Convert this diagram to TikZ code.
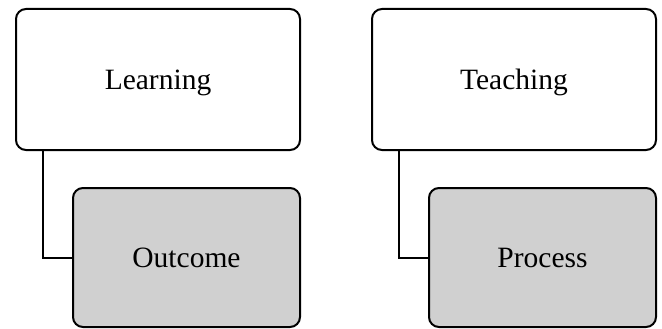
\documentclass[tikz,border=0pt]{standalone}
\usepackage{fontspec}
\setmainfont{Liberation Serif}
\begin{document}
\begin{tikzpicture}[x=1pt,y=-1pt,
  box/.style={draw=black, line width=2pt, rounded corners=10pt, rectangle, inner sep=0pt,
    font=\fontsize{29.5}{33}\selectfont, text depth=0pt, fill=white},
  topbox/.style={box, minimum width=284pt, minimum height=141pt},
  subbox/.style={box, fill=boxgray, minimum width=227pt, minimum height=139pt},
  link/.style={draw=black, line width=2pt}]
\definecolor{boxgray}{RGB}{208,208,208}
\useasboundingbox (0,0) rectangle (662,329);
\node[topbox] (L) at (158,79.5) {Learning};
\node[subbox] (O) at (186.5,257.5) {Outcome};
\node[topbox] (T) at (514,79.5) {Teaching};
\node[subbox] (P) at (542.5,257.5) {Process};
\draw[link] ([xshift=28pt]L.south west) |- (O.west);
\draw[link] ([xshift=28pt]T.south west) |- (P.west);
\end{tikzpicture}
\end{document}
